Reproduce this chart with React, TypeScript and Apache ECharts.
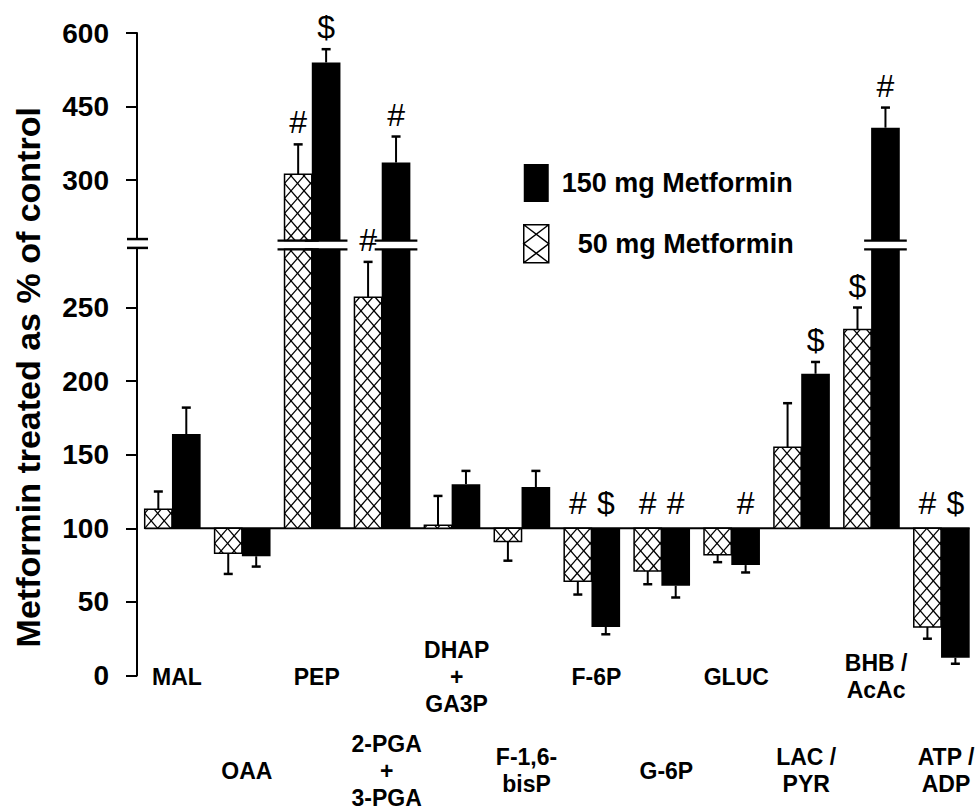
import React, { useEffect, useRef } from 'react';
import * as echarts from 'echarts';

const FONT = '"Liberation Sans", Arial, Helvetica, sans-serif';

const categories = [
  'MAL', 'OAA', 'PEP', '2-PGA\n+\n3-PGA', 'DHAP\n+\nGA3P', 'F-1,6-\nbisP',
  'F-6P', 'G-6P', 'GLUC', 'LAC /\nPYR', 'BHB /\nAcAc', 'ATP /\nADP',
];
const values50 = [113, 83, 312, 257, 102, 91, 64, 71, 82, 155, 235, 33];
const errors50 = [12, 14, 61, 24, 20, 13, 9, 9, 5, 30, 15, 8];
const marks50 = ['', '', '#', '#', '', '', '#', '#', '', '', '$', '#'];
const values150 = [164, 81, 540, 336, 130, 128, 33, 61, 75, 205, 407, 12];
const errors150 = [18, 7, 27, 53, 9, 11, 5, 8, 5, 8, 41, 4];
const marks150 = ['', '', '$', '#', '', '', '$', '#', '#', '$', '#', '$'];
const yTickValues = [0, 50, 100, 150, 200, 250, 300, 450, 600];
const BASELINE = 100;
const NAME_150 = '150 mg Metformin';
const NAME_50 = '50 mg Metformin';

// broken axis: lower part linear 0..290, upper part compressed (1/3 scale)
const LOWER_MAX = 290;
const toD = (v: number) => (v <= LOWER_MAX ? v : 336.5 + (v - 300) / 3);
const BREAK_LOW_D = 289.5;
const BREAK_HIGH_D = 295.5;
const AXIS_BREAK_LOW_D = 290.5;
const AXIS_BREAK_HIGH_D = 296.5;
const tickD = yTickValues.map(toD);

const HATCH_ICON = 'path://M0,0L25,0L25,38L0,38Z M0,0L25,19L0,38 M25,0L0,19L25,38';

function hatchLines(xl: number, xr: number, yt: number, yb: number, ax: number, ay: number, px: number, py: number) {
  const out: number[][] = [];
  for (const s of [1, -1]) {
    const vals = [
      (xl - ax) / px - (s * (yt - ay)) / py,
      (xl - ax) / px - (s * (yb - ay)) / py,
      (xr - ax) / px - (s * (yt - ay)) / py,
      (xr - ax) / px - (s * (yb - ay)) / py,
    ];
    const kmin = Math.ceil(Math.min(...vals));
    const kmax = Math.floor(Math.max(...vals));
    for (let k = kmin; k <= kmax; k++) {
      const ya = ay + s * py * ((xl - ax) / px - k);
      const yb2 = ay + s * py * ((xr - ax) / px - k);
      const t1 = (yt - ya) / (yb2 - ya);
      const t2 = (yb - ya) / (yb2 - ya);
      const tlo = Math.max(0, Math.min(t1, t2));
      const thi = Math.min(1, Math.max(t1, t2));
      if (thi - tlo > 1e-6) {
        out.push([
          xl + tlo * (xr - xl), ya + tlo * (yb2 - ya),
          xl + thi * (xr - xl), ya + thi * (yb2 - ya),
        ]);
      }
    }
  }
  return out;
}

const makeRender = (kind: 'hatch' | 'solid', marks: string[]) => (params: any, api: any) => {
  const i = api.value(0) as number;
  const v = api.value(1) as number;
  const e = api.value(2) as number;
  const W = api.size([1, 0])[0];
  const c = api.coord([i, 0])[0];
  const bw = W * (kind === 'hatch' ? 0.39 : 0.41);
  const xl = kind === 'hatch' ? c - bw : c;
  const xr = xl + bw;
  const Y = (d: number) => api.coord([i, d])[1];
  const yBase = Y(toD(BASELINE));
  const broken = v > LOWER_MAX;
  const segs: number[][] = [];
  if (broken) {
    segs.push([Y(BREAK_LOW_D), yBase]);
    segs.push([Y(toD(v)), Y(BREAK_HIGH_D)]);
  } else {
    const yv = Y(toD(v));
    segs.push([Math.min(yv, yBase), Math.max(yv, yBase)]);
  }
  const children: any[] = [];
  for (const [yt, yb] of segs) {
    const shape = { x: xl, y: yt, width: xr - xl, height: yb - yt };
    if (kind === 'solid') {
      children.push({ type: 'rect', shape, style: { fill: '#000' } });
    } else {
      children.push({ type: 'rect', shape, style: { fill: '#fff' } });
      for (const s of hatchLines(xl, xr, yt, yb, xl, yBase, 13, 15)) {
        children.push({
          type: 'line',
          shape: { x1: s[0], y1: s[1], x2: s[2], y2: s[3] },
          style: { stroke: '#000', lineWidth: 1.3 },
        });
      }
      children.push({ type: 'rect', shape, style: { fill: 'none', stroke: '#000', lineWidth: 1.5 } });
    }
  }
  if (broken) {
    for (const d of [BREAK_LOW_D, BREAK_HIGH_D]) {
      const yy = Y(d);
      children.push({
        type: 'line',
        shape: { x1: xl - 7, y1: yy, x2: xr + 7, y2: yy },
        style: { stroke: '#000', lineWidth: 2.2 },
      });
    }
  }
  const up = v >= BASELINE;
  const xm = (xl + xr) / 2;
  const yv = Y(toD(v));
  const ye = Y(toD(up ? v + e : v - e));
  children.push({ type: 'line', shape: { x1: xm, y1: yv, x2: xm, y2: ye }, style: { stroke: '#000', lineWidth: 2 } });
  children.push({ type: 'line', shape: { x1: xm - 4.5, y1: ye, x2: xm + 4.5, y2: ye }, style: { stroke: '#000', lineWidth: 2.5 } });
  const mark = marks[params.dataIndex];
  if (mark) {
    children.push({
      type: 'text',
      x: xm,
      y: up ? ye - 22 : yBase - 25,
      style: {
        text: mark, fill: '#000', fontSize: 32, fontFamily: FONT, fontWeight: 'normal',
        align: 'center', verticalAlign: 'middle',
      },
    });
  }
  return { type: 'group', children };
};

const renderFrame = (_params: any, api: any) => {
  const W = api.size([1, 0])[0];
  const c0 = api.coord([0, 0])[0];
  const cN = api.coord([categories.length - 1, 0])[0];
  const yB = api.coord([0, toD(BASELINE)])[1];
  const axisX = c0 - W / 2;
  const ya = api.coord([0, AXIS_BREAK_LOW_D])[1];
  const yb = api.coord([0, AXIS_BREAK_HIGH_D])[1];
  return {
    type: 'group',
    children: [
      { type: 'line', shape: { x1: c0 - W * 0.39, y1: yB, x2: cN + W * 0.41, y2: yB }, style: { stroke: '#000', lineWidth: 2 } },
      { type: 'rect', shape: { x: axisX - 6, y: yb, width: 12, height: ya - yb }, style: { fill: '#fff' } },
      { type: 'line', shape: { x1: axisX - 10, y1: ya, x2: axisX + 11, y2: ya }, style: { stroke: '#000', lineWidth: 2.5 } },
      { type: 'line', shape: { x1: axisX - 10, y1: yb, x2: axisX + 11, y2: yb }, style: { stroke: '#000', lineWidth: 2.5 } },
    ],
  };
};

const catLabel = (even: boolean, margin: number) => ({
  interval: 0,
  margin,
  verticalAlign: 'middle',
  fontSize: 23,
  fontWeight: 'bold',
  lineHeight: 27,
  color: '#000',
  fontFamily: FONT,
  padding: [0, 0, 0, 10],
  formatter: (val: string, idx: number) => ((idx % 2 === 0) === even ? val : ''),
});

export default function App() {
  const ref = useRef<HTMLDivElement>(null);
  useEffect(() => {
    if (!ref.current) return;
    const chart = echarts.init(ref.current, undefined, { renderer: 'svg' });
    chart.setOption({
      animation: false,
      backgroundColor: '#fff',
      grid: { left: 137, right: 2, top: 33, bottom: 132 },
      legend: {
        orient: 'vertical',
        left: 523,
        top: 164,
        padding: 0,
        itemWidth: 25,
        itemHeight: 38,
        itemGap: 22,
        selectedMode: false,
        textStyle: { fontSize: 27, fontWeight: 'bold', color: '#000', fontFamily: FONT, padding: [0, 0, 0, 8] },
        data: [
          { name: NAME_150, icon: 'rect', itemStyle: { color: '#000', borderWidth: 0 } },
          {
            name: NAME_50, icon: HATCH_ICON,
            itemStyle: { color: '#fff', borderColor: '#000', borderWidth: 1.5 },
            textStyle: { padding: [0, 0, 0, 24] },
          },
        ],
      },
      xAxis: [
        {
          type: 'category', data: categories, position: 'bottom',
          axisLine: { show: false }, axisTick: { show: false },
          axisLabel: catLabel(true, 1),
        },
        {
          type: 'category', data: categories, position: 'bottom', gridIndex: 0,
          axisLine: { show: false }, axisTick: { show: false },
          axisLabel: catLabel(false, 95),
        },
      ],
      yAxis: {
        type: 'value',
        min: 0,
        max: toD(600),
        splitLine: { show: false },
        axisLine: { show: true, lineStyle: { color: '#000', width: 2 } },
        axisTick: { show: true, length: 11, lineStyle: { color: '#000', width: 2 }, customValues: tickD },
        axisLabel: {
          customValues: tickD,
          formatter: (val: number) => {
            const idx = tickD.findIndex((d) => Math.abs(d - val) < 1e-6);
            return idx >= 0 ? String(yTickValues[idx]) : '';
          },
          fontSize: 28, fontWeight: 'bold', color: '#000', fontFamily: FONT, margin: 28,
          padding: [6, 0, 0, 0],
        },
        name: 'Metformin treated as % of control',
        nameLocation: 'middle',
        nameGap: 92,
        nameTextStyle: { fontSize: 34, fontWeight: 'bold', color: '#000', fontFamily: FONT, padding: [0, 46, 0, 0] },
      },
      series: [
        {
          type: 'custom', name: 'frame', silent: true, renderItem: renderFrame,
          data: [[0, BASELINE]], encode: { x: 0, y: 1 },
        },
        {
          type: 'custom', name: NAME_50, silent: true,
          itemStyle: { color: '#fff', borderColor: '#000' },
          renderItem: makeRender('hatch', marks50),
          data: values50.map((v, i) => [i, v, errors50[i]]),
          encode: { x: 0, y: 1 },
        },
        {
          type: 'custom', name: NAME_150, silent: true,
          itemStyle: { color: '#000' },
          renderItem: makeRender('solid', marks150),
          data: values150.map((v, i) => [i, v, errors150[i]]),
          encode: { x: 0, y: 1 },
        },
      ],
    });
    return () => chart.dispose();
  }, []);
  return (
    <div
      ref={ref}
      style={{ position: 'fixed', left: 0, top: 0, width: 978, height: 811, background: '#fff' }}
    />
  );
}
